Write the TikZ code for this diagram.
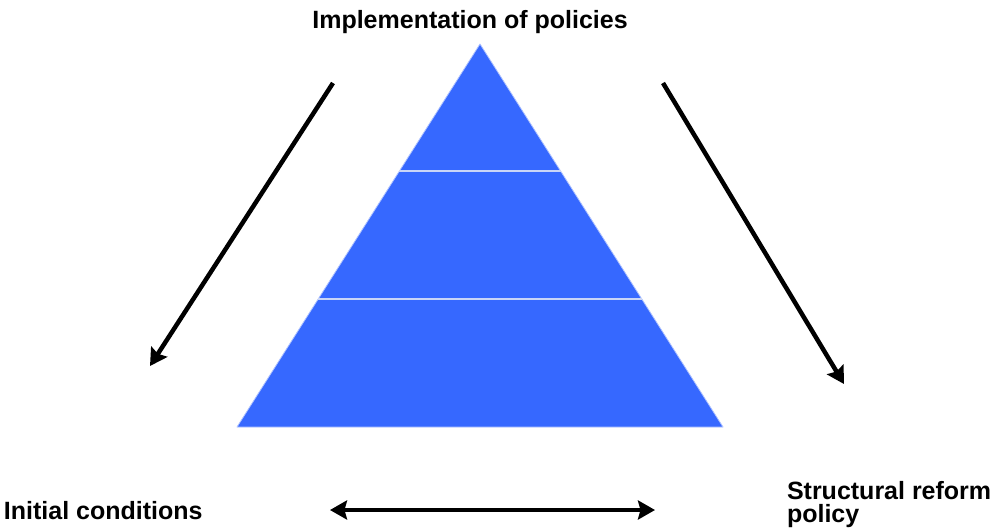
\documentclass[tikz,border=0pt]{standalone}
\usepackage{fontspec}
\setmainfont{Liberation Sans}
\usetikzlibrary{arrows.meta}
\definecolor{pyrblue}{HTML}{3668FF}
\definecolor{pyredge}{HTML}{AFC3FF}
\definecolor{pyrsep}{HTML}{C9D5F7}
\tikzset{
  label/.style={font=\bfseries\fontsize{25}{23}\selectfont, inner sep=0pt, outer sep=0pt},
  tip/.style={Stealth[length=17pt, width=19pt, inset=2.5pt]},
  flow/.style={line width=4.5pt, -{Stealth[length=17pt, width=19pt, inset=2.5pt]}},
  twoway/.style={line width=4.5pt, {Stealth[length=17pt, width=19pt, inset=2.5pt]}-{Stealth[length=17pt, width=19pt, inset=2.5pt]}},
}
\begin{document}
\begin{tikzpicture}[x=1pt, y=-1pt]
  \useasboundingbox (0,0) rectangle (991,531);

  % pyramid corners and tier boundaries
  \coordinate (apex) at (480,44);
  \coordinate (bl) at (237,427);
  \coordinate (br) at (723,427);
  \coordinate (t1l) at (399.4,171);
  \coordinate (t1r) at (560.6,171);
  \coordinate (t2l) at (318.2,299);
  \coordinate (t2r) at (641.8,299);

  \fill[pyrblue] (apex) -- (br) -- (bl) -- cycle;
  \draw[pyredge, line width=0.8pt, line join=round] (apex) -- (br) -- (bl) -- cycle;
  \draw[pyrsep, line width=2pt] (t1l) -- (t1r);
  \draw[pyrsep, line width=2pt] (t2l) -- (t2r);

  % labels
  \node[label, anchor=base] (impl) at (470,28) {Implementation of policies};
  \node[label, anchor=base west] (init) at (4,519) {Initial conditions};
  \node[label, anchor=base west, align=left] (reform) at (787,522) {Structural reform\\policy};

  % arrows
  \coordinate (la) at (333,83);
  \coordinate (lb) at (150,366);
  \coordinate (ra) at (663,83);
  \coordinate (rb) at (844,384);
  \coordinate (ha) at (330,510);
  \coordinate (hb) at (655,510);
  \draw[flow] (la) -- (lb);
  \draw[flow] (ra) -- (rb);
  \draw[twoway] (ha) -- (hb);
\end{tikzpicture}
\end{document}
